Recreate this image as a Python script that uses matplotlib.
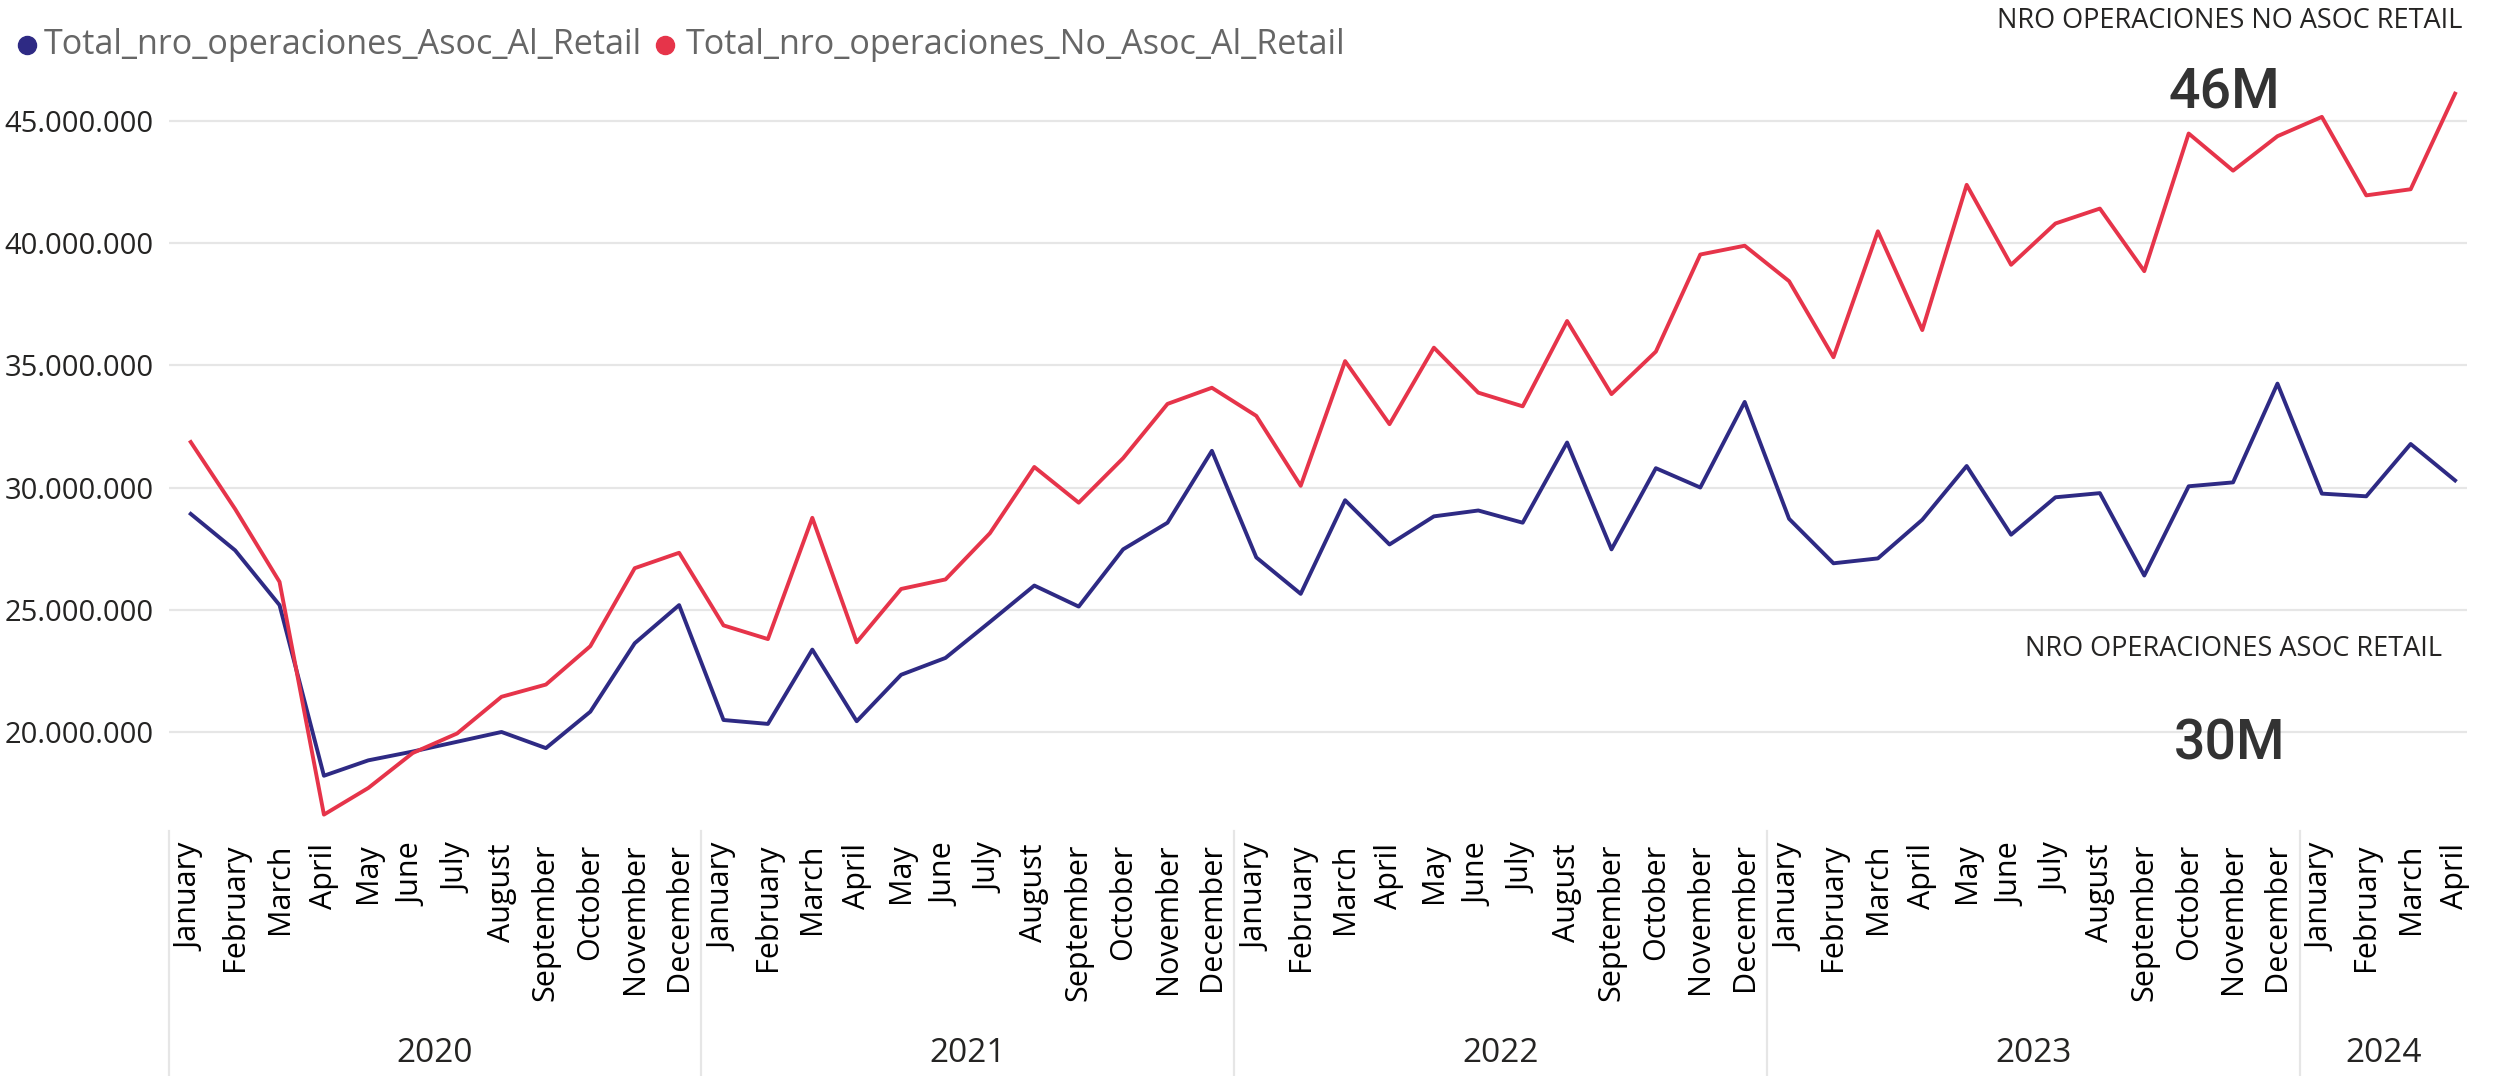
#importing the libraries
import numpy as np
import matplotlib
matplotlib.use("Agg")
import matplotlib.pyplot as plt
from matplotlib.lines import Line2D
from matplotlib.ticker import FuncFormatter
import matplotlib.transforms as mtransforms

#data (millions of operations), Jan 2020 .. Apr 2024
month_names = ["January", "February", "March", "April", "May", "June", "July",
               "August", "September", "October", "November", "December"]
years = ["2020", "2021", "2022", "2023", "2024"]
months_per_year = [12, 12, 12, 12, 4]

asoc_retail = [28.92, 27.43, 25.19, 18.21, 18.84, 19.20, 19.60, 20.00, 19.34, 20.83, 23.63, 25.19,
               20.49, 20.33, 23.37, 20.44, 22.34, 23.03, 24.50, 25.99, 25.13, 27.47, 28.56, 31.50,
               27.14, 25.65, 29.48, 27.67, 28.82, 29.06, 28.56, 31.84, 27.47, 30.79, 30.00, 33.50,
               28.72, 26.90, 27.10, 28.68, 30.88, 28.07, 29.60, 29.77, 26.40, 30.05, 30.21, 34.25,
               29.75, 29.64, 31.78, 30.29]
no_asoc_retail = [31.86, 29.12, 26.14, 16.62, 17.71, 19.14, 19.94, 21.44, 21.94, 23.51, 26.70, 27.33,
                  24.36, 23.80, 28.76, 23.67, 25.85, 26.24, 28.13, 30.84, 29.38, 31.20, 33.42, 34.08,
                  32.93, 30.07, 35.17, 32.59, 35.72, 33.88, 33.32, 36.81, 33.82, 35.56, 39.53, 39.89,
                  38.44, 35.33, 40.48, 36.44, 42.38, 39.11, 40.80, 41.41, 38.85, 44.48, 42.96, 44.37,
                  45.16, 41.95, 42.20, 46.11]

series_names = ["Total_nro_operaciones_Asoc_Al_Retail", "Total_nro_operaciones_No_Asoc_Al_Retail"]
card_titles = ["NRO OPERACIONES NO ASOC RETAIL", "NRO OPERACIONES ASOC RETAIL"]
card_values = ["46M", "30M"]

#colors
blue = "#2E2A84"
red = "#E6344A"
grid_col = "#E6E6E6"
text_col = "#252423"

plt.rcParams["font.family"] = ["Open Sans", "DejaVu Sans"]


def main():
    fig = plt.figure(figsize=(24.96, 10.76), dpi=100)
    ax = fig.add_axes([0.0677, 0.2277, 0.9207, 0.6873])

    x = np.arange(len(asoc_retail))
    ax.plot(x, np.array(asoc_retail) * 1e6, color=blue, lw=2.8)
    ax.plot(x, np.array(no_asoc_retail) * 1e6, color=red, lw=2.8)

    ax.set_xlim(-0.49, len(x) - 1 + 0.27)
    ax.set_ylim(15.95e6, 46.2e6)

    #y axis
    ax.set_yticks(np.arange(20, 46, 5) * 1e6)
    ax.yaxis.set_major_formatter(FuncFormatter(lambda v, p: "{:,.0f}".format(v).replace(",", ".")))
    ax.tick_params(axis="y", length=0, pad=11, labelsize=21, labelcolor=text_col)
    ax.grid(axis="y", color=grid_col, lw=1.6)
    ax.set_axisbelow(True)
    for s in ax.spines.values():
        s.set_visible(False)

    #month labels
    labels = []
    for n in months_per_year:
        labels += month_names[:n]
    ax.set_xticks(x)
    ax.set_xticklabels(labels, rotation=90, va="top", ha="center")
    ax.tick_params(axis="x", length=0, pad=9, labelsize=22, labelcolor="black")

    #year labels and separators
    trans = mtransforms.blended_transform_factory(ax.transData, ax.transAxes)
    start = -0.5
    xmax = ax.get_xlim()[1]
    for yr, n in zip(years, months_per_year):
        end = min(start + n, xmax)
        ax.text((start + end) / 2, -0.301, yr, transform=trans, ha="center", va="center",
                fontsize=24, color=text_col)
        ax.plot([start, start], [0, -0.331], transform=trans, color=grid_col, lw=1.6, clip_on=False)
        start += n

    #legend, placed by hand
    leg_y = 1 - 45 / 1076
    for xm, xt, c, name in zip([27 / 2496, 665 / 2496], [44 / 2496, 686 / 2496],
                               (blue, red), series_names):
        fig.add_artist(Line2D([xm], [leg_y], transform=fig.transFigure, marker="o", ls="",
                              color=c, markersize=13))
        fig.text(xt, leg_y, name, ha="left", va="center", fontsize=24.6, color="#666666")

    #card labels
    fig.text(0.9864, 0.9805, card_titles[0], ha="right", va="center", fontsize=19.5, color=text_col)
    fig.text(0.891, 1 - 92 / 1076, card_values[0], ha="center", va="center", fontsize=40,
             color="#333333", family="Roboto", fontweight="medium")
    fig.text(0.9784, 1 - 649 / 1076, card_titles[1], ha="right", va="center", fontsize=19.5, color=text_col)
    fig.text(0.8935, 1 - 744 / 1076, card_values[1], ha="center", va="center", fontsize=40,
             color="#333333", family="Roboto", fontweight="medium")

    fig.savefig("out.png", dpi=100)


if __name__ == "__main__":
    main()
